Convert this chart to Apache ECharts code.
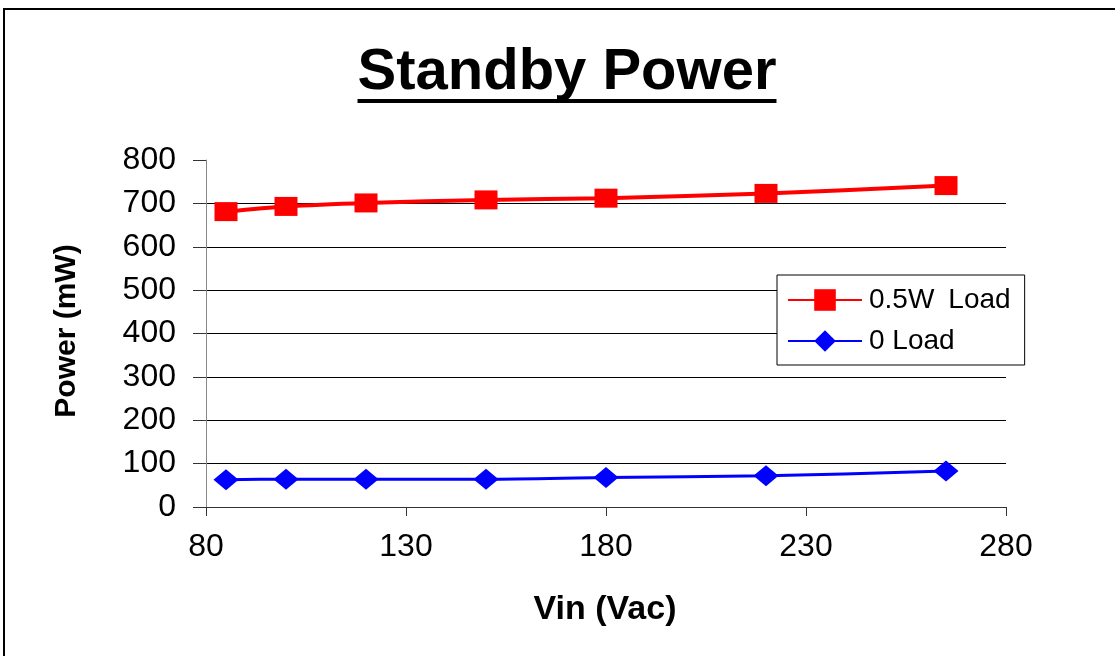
<!DOCTYPE html>
<html>
<head>
<meta charset="utf-8">
<script src="https://cdn.jsdelivr.net/npm/echarts@6/dist/echarts.min.js"></script>
<style>
html,body{margin:0;padding:0;background:#fff;}
#chart{width:1115px;height:656px;}
</style>
</head>
<body>
<div id="chart"></div>
<script>
// ---- data ----
const vin = [85, 100, 120, 150, 180, 220, 265];
const load05W = [681, 693, 701, 708, 712, 723, 741];
const load0 = [63, 64, 64, 64, 68, 72, 83];
const seriesNames = ['0.5W Load', '0 Load'];
const titleText = 'Standby Power';
const xName = 'Vin (Vac)';
const yName = 'Power (mW)';

const FONT = '"Liberation Sans", Arial, sans-serif';
const chart = echarts.init(document.getElementById('chart'));

// measure title width for the underline
const cv = document.createElement('canvas').getContext('2d');
const titleSize = 58;
cv.font = 'bold ' + titleSize + 'px ' + FONT;
const tW = cv.measureText(titleText).width;
const tCx = 567;

const gridColors = [];
for (let i = 0; i < 8; i++) gridColors.push('#000');
gridColors.push('rgba(0,0,0,0)');

chart.setOption({
  animation: false,
  backgroundColor: '#fff',
  graphic: [
    { type: 'rect', shape: { x: 4, y: 9, width: 1300, height: 900 },
      style: { fill: 'none', stroke: '#000', lineWidth: 2 }, silent: true, z: 0 },
    { type: 'text', x: tCx, y: 73,
      style: { text: titleText, font: 'bold ' + titleSize + 'px ' + FONT, fill: '#000',
               textAlign: 'center', textVerticalAlign: 'middle' } },
    { type: 'rect', shape: { x: tCx - tW / 2, y: 99, width: tW, height: 4 },
      style: { fill: '#000' } },
    { type: 'text', x: 67, y: 331, rotation: Math.PI / 2,
      style: { text: yName, font: 'bold 30px ' + FONT, fill: '#000',
               textAlign: 'center', textVerticalAlign: 'middle' } },
    { type: 'text', x: 605, y: 610,
      style: { text: xName, font: 'bold 34px ' + FONT, fill: '#000',
               textAlign: 'center', textVerticalAlign: 'middle' } }
  ],
  grid: { left: 206, right: 109, top: 160, bottom: 149, containLabel: false },
  legend: {
    orient: 'vertical',
    left: 777, top: 275,
    padding: [11, 14, 10, 10],
    itemGap: 13,
    itemWidth: 74, itemHeight: 27,
    borderColor: '#000', borderWidth: 1,
    backgroundColor: '#fff',
    formatter: function (n) { return n === seriesNames[0] ? n.replace(' ', '\u2002') : n; },
    textStyle: { fontFamily: FONT, fontSize: 28, color: '#000', padding: [0, 0, 0, 2] },
    data: seriesNames
  },
  xAxis: {
    type: 'value', min: 80, max: 280, interval: 50,
    axisLine: { show: true, lineStyle: { color: '#333', width: 1 } },
    axisTick: { show: true, inside: false, length: 9, lineStyle: { color: '#333' } },
    splitLine: { show: false },
    axisLabel: { fontFamily: FONT, fontSize: 32, color: '#000', margin: 24 }
  },
  yAxis: {
    type: 'value', min: 0, max: 800, interval: 100,
    axisLine: { show: true, lineStyle: { color: '#888', width: 1 } },
    axisTick: { show: true, inside: false, length: 13, lineStyle: { color: '#333' } },
    splitLine: { show: true, lineStyle: { color: gridColors, width: 1 } },
    axisLabel: { fontFamily: FONT, fontSize: 32, color: '#000', margin: 30 }
  },
  series: [
    {
      name: seriesNames[0], type: 'line', smooth: 0.3,
      data: vin.map((v, i) => [v, load05W[i]]),
      symbol: 'rect', symbolSize: [23, 19],
      itemStyle: { color: '#ff0000' },
      lineStyle: { color: '#ff0000', width: 4 },
      z: 3
    },
    {
      name: seriesNames[1], type: 'line', smooth: 0.3,
      data: vin.map((v, i) => [v, load0[i]]),
      symbol: 'diamond', symbolSize: [25, 21],
      itemStyle: { color: '#0000ff' },
      lineStyle: { color: '#0000ff', width: 3 },
      z: 3
    }
  ]
});
</script>
</body>
</html>
